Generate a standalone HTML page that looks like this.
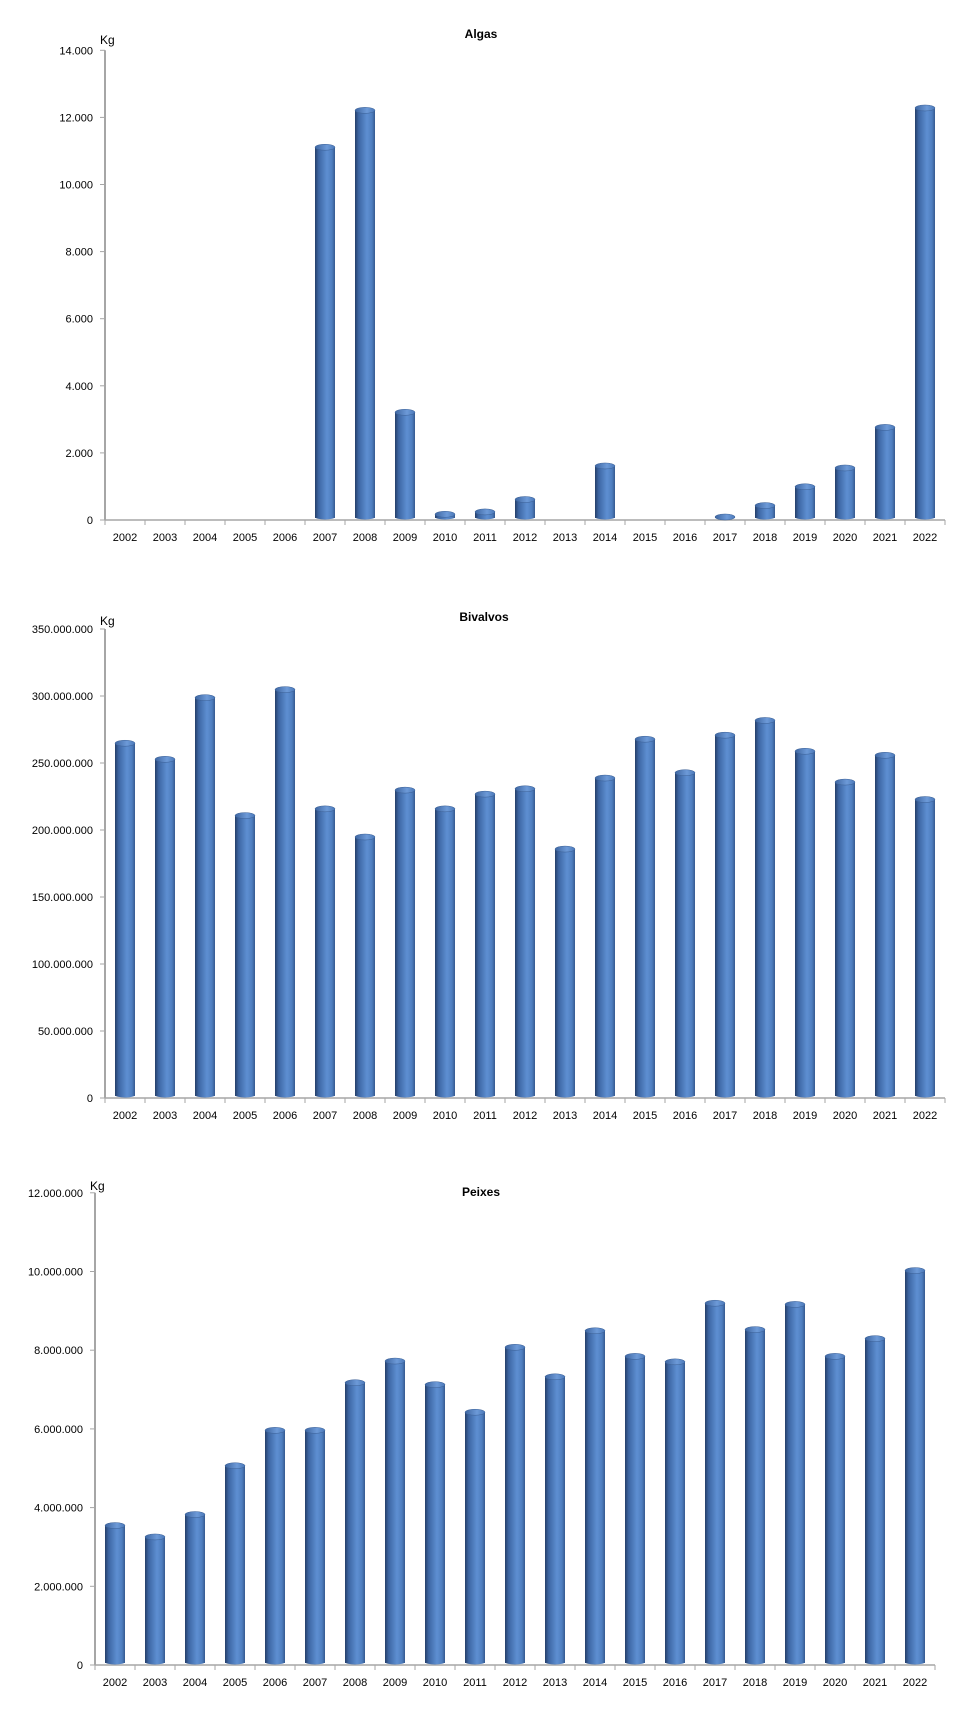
<!DOCTYPE html>
<html><head><meta charset="utf-8"><style>
html,body{margin:0;padding:0;background:#fff;}
svg{display:block;font-family:"Liberation Sans",sans-serif;}
</style></head><body>
<svg id="s" width="957" height="1719" viewBox="0 0 957 1719" xmlns="http://www.w3.org/2000/svg">
<defs>
<linearGradient id="g" x1="0" x2="1" y1="0" y2="0">
<stop offset="0" stop-color="#253f69"/>
<stop offset="0.18" stop-color="#3d66a3"/>
<stop offset="0.6" stop-color="#5e8fd2"/>
<stop offset="0.85" stop-color="#4f7ebf"/>
<stop offset="1" stop-color="#35598f"/>
</linearGradient>
<linearGradient id="gt" x1="0" x2="1" y1="0" y2="0">
<stop offset="0" stop-color="#3d65a0"/>
<stop offset="0.6" stop-color="#6d9ad8"/>
<stop offset="1" stop-color="#4a78b8"/>
</linearGradient>
</defs>
</svg>
<script>
var s=document.getElementById('s');var NS='http://www.w3.org/2000/svg';
function el(t,a,txt){var e=document.createElementNS(NS,t);for(var k in a)e.setAttribute(k,a[k]);if(txt!==undefined)e.textContent=txt;s.appendChild(e);return e;}
function fmt(n){return n.toString().replace(/\B(?=(\d{3})+(?!\d))/g,'.');}
function chart(o){
 var ax=o.ax,z=o.zero,sp=o.sp,n=o.ticks,cw=40,right=ax+21*cw;
 el('text',{x:o.tx,y:o.ty,'font-size':12,'font-weight':'bold','text-anchor':'middle'},o.title);
 el('text',{x:ax-5,y:o.ky,'font-size':12},'Kg');
 for(var i=0;i<=n;i++){var y=z-i*sp;
  el('line',{x1:ax-5,x2:ax,y1:y,y2:y,stroke:'#a6a6a6','stroke-width':1});
  el('text',{x:ax-12,y:y+4,'font-size':11,'text-anchor':'end'},fmt(i*o.step));}
 el('line',{x1:ax,x2:ax,y1:z-n*sp,y2:z,stroke:'#a6a6a6','stroke-width':2});
 el('line',{x1:ax,x2:right,y1:z,y2:z,stroke:'#a6a6a6','stroke-width':1.5});
 for(var i=0;i<=21;i++){var x=ax+i*cw;el('line',{x1:x,x2:x,y1:z,y2:z+5,stroke:'#a6a6a6','stroke-width':1});}
 for(var i=0;i<21;i++){var cx=ax+i*cw+cw/2;
  el('text',{x:cx,y:z+21,'font-size':11,'text-anchor':'middle'},String(2002+i));
  var v=o.vals[i];if(!v)continue;
  var h=v/o.step*sp;var top=z-h;var w=20,x0=cx-10;
  if(h<6){top=z-6;}
  el('rect',{x:x0,y:top+3,width:w,height:z-top-5,fill:'url(#g)'});
  el('ellipse',{cx:cx,cy:z-3,rx:10,ry:2.5,fill:'url(#g)'});
  el('ellipse',{cx:cx,cy:top+3,rx:10,ry:3,fill:'url(#gt)',stroke:'#3a5f95','stroke-width':0.5});
 }
}
chart({title:'Algas',tx:481,ty:38,ky:44,ax:105,zero:520,sp:67.1,ticks:7,step:2000,
 vals:[0,0,0,0,0,11200,12300,3300,260,330,700,0,1700,0,0,150,520,1080,1640,2850,12370]});
chart({title:'Bivalvos',tx:484,ty:621,ky:625,ax:105,zero:1098,sp:67,ticks:7,step:50000000,
 vals:[267,255,301,213,307,218,197,232,218,229,233,188,241,270,245,273,284,261,238,258,225].map(function(v){return v*1e6;})});
chart({title:'Peixes',tx:481,ty:1196,ky:1190,ax:95,zero:1665,sp:78.7,ticks:6,step:2000000,
 vals:[3.62,3.33,3.9,5.14,6.04,6.04,7.25,7.8,7.2,6.5,8.15,7.4,8.57,7.92,7.78,9.27,8.6,9.24,7.92,8.37,10.1].map(function(v){return v*1e6;})});
</script>
</body></html>
